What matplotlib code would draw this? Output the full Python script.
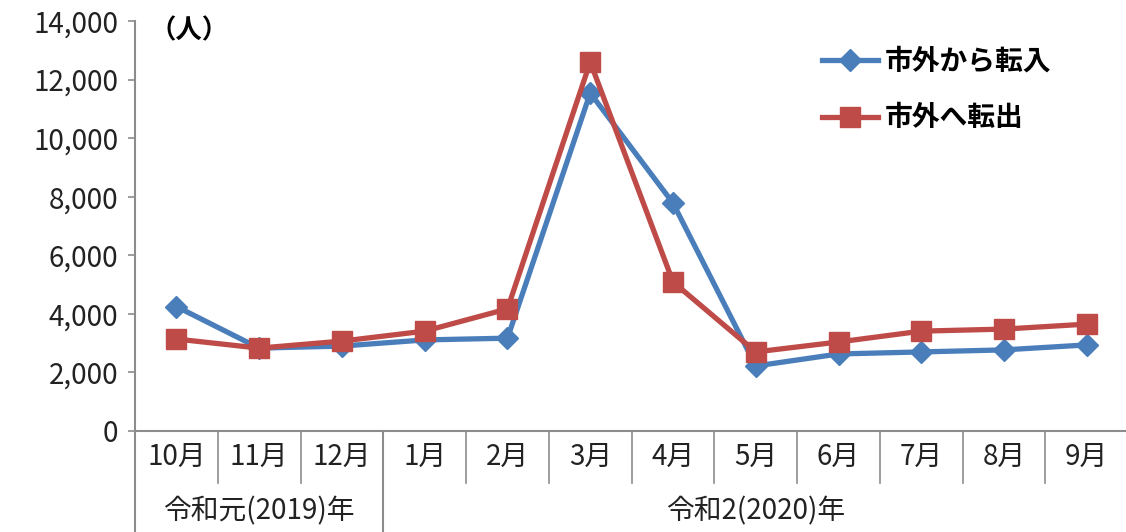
import matplotlib
matplotlib.use("Agg")
import matplotlib.pyplot as plt
import matplotlib.transforms as mtransforms
from matplotlib.ticker import FuncFormatter, MultipleLocator

plt.rcParams['font.family'] = ['Noto Sans CJK JP', 'DejaVu Sans']

# データ
months = ['10月', '11月', '12月', '1月', '2月', '3月', '4月', '5月', '6月', '7月', '8月', '9月']
years = ['令和元(2019)年', '令和2(2020)年']
year_spans = [(0, 3), (3, 12)]  # 各年の月の範囲
tennyu = [4250, 2830, 2900, 3110, 3170, 11540, 7780, 2220, 2630, 2700, 2770, 2940]
tenshutsu = [3140, 2830, 3070, 3410, 4170, 12600, 5090, 2700, 3040, 3410, 3480, 3650]

blue = '#4A7EBB'
red = '#BE4B48'
gray = '#8C8C8C'
txt = '#222222'

W, H = 1126, 532
fig = plt.figure(figsize=(W / 100, H / 100), dpi=100)
ax = fig.add_axes([135 / W, (H - 431) / H, (W - 135) / W + 0.002, 410 / H])

x = list(range(len(months)))
ax.plot(x, tennyu, color=blue, lw=3.8, marker='D', ms=11, label='市外から転入',
        solid_joinstyle='round', zorder=3)
ax.plot(x, tenshutsu, color=red, lw=3.8, marker='s', ms=14, label='市外へ転出',
        solid_joinstyle='round', zorder=4)

ax.set_xlim(-0.5, len(months) - 0.5)
ax.set_ylim(0, 14000)
ax.yaxis.set_major_locator(MultipleLocator(2000))
ax.yaxis.set_major_formatter(FuncFormatter(lambda v, p: f'{int(v):,}'))
ax.tick_params(axis='y', labelsize=20, colors=txt, length=5, width=1.2,
               color=gray, pad=7)
ax.set_xticks([])

for s in ['top', 'right']:
    ax.spines[s].set_visible(False)
for s in ['left', 'bottom']:
    ax.spines[s].set_color(gray)
    ax.spines[s].set_linewidth(1.5)

ax.text(0.015, 0.975, '（人）', transform=ax.transAxes, fontsize=19,
        fontweight='bold', va='center', ha='left')

# 月ラベルと区切り線
trans = mtransforms.blended_transform_factory(ax.transData, ax.transAxes)
row1 = -52 / 410
row2 = -101 / 410
for i, m in enumerate(months):
    ax.text(i, row1 / 2, m, transform=trans, ha='center', va='center',
            fontsize=20, color=txt)
for i in range(1, len(months)):
    ax.plot([i - 0.5, i - 0.5], [0, row1], transform=trans, color=gray,
            lw=1.2, clip_on=False)
for (a, b), yl in zip(year_spans, years):
    ax.text((a + b - 1) / 2, (row1 + row2) / 2 - 0.01, yl, transform=trans,
            ha='center', va='center', fontsize=20, color=txt)
    ax.plot([a - 0.5, a - 0.5], [0, row2], transform=trans, color=gray,
            lw=1.5, clip_on=False)

leg = ax.legend(loc='upper left', bbox_to_anchor=(0.667, 0.997), frameon=False,
                prop={'size': 20, 'weight': 'bold'}, handlelength=2.0,
                labelspacing=1.05, handletextpad=0.25)

fig.savefig('out.png', dpi=100)
